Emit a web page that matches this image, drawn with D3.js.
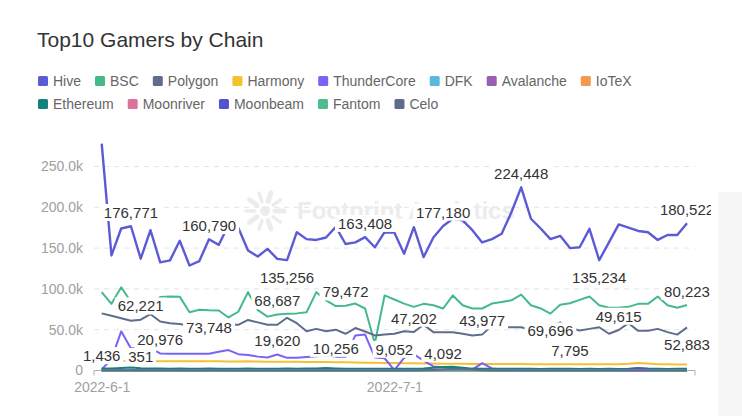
<!DOCTYPE html>
<html>
<head>
<meta charset="utf-8">
<script src="https://cdn.jsdelivr.net/npm/d3@7/dist/d3.min.js"></script>
<style>
  body { margin: 0; background: #fff; }
  svg { display: block; font-family: "Liberation Sans", Arial, sans-serif; }
</style>
</head>
<body>
<div id="chart"></div>
<script>
const W = 742, H = 416;

const seriesNames = ["Hive", "BSC", "Polygon", "Harmony", "ThunderCore", "DFK", "Avalanche", "IoTeX",
                     "Ethereum", "Moonriver", "Moonbeam", "Fantom", "Celo"];
const seriesColors = ["#5b5bd6", "#45b98b", "#5f6c8c", "#f5c12e", "#7b62f2", "#5ab8dc", "#9b5eb5", "#f39a4c",
                      "#14827b", "#dc7499", "#5252d0", "#4dbd8f", "#5f6c8c"];

const hive = [278000,141000,174000,176771,137000,172000,132500,135000,159000,128700,
              134000,160790,154000,178000,175000,147000,139700,149000,136800,135256,
              169500,161000,160000,163000,176000,155000,157000,163408,151000,169500,
              169000,143000,175600,139000,163000,177180,186000,184000,172000,157000,
              161000,167500,194000,224448,186000,174000,161000,165000,150000,151000,
              173600,135234,157000,179000,175000,171000,169500,160000,166000,166000,
              180522];
const bsc = [96000,81700,102000,84000,76000,80000,90000,90700,90500,71400,
             74400,73748,73500,65000,72000,96000,74000,66000,68687,69400,
             70000,71400,96000,86000,79000,79472,82000,76000,33000,92000,
             87000,82000,78000,81700,80000,76000,92000,80000,76000,76000,
             82000,84000,86000,93000,80000,76000,69696,80500,82500,86600,
             90700,80000,77000,77000,78000,81700,81700,90700,80000,77000,
             80223];
const polygon = [70000,67000,64000,61000,62221,69000,60000,58000,57000,55000,
                 56000,55000,57000,56000,56000,62000,59000,56000,56000,64600,
                 58000,48000,51000,48000,50000,45000,52000,47800,43000,44000,
                 45000,48000,47202,56000,47000,47000,47000,45000,43000,43977,
                 55000,53000,53000,53000,50000,52000,55000,59000,52000,49000,
                 51000,53000,45000,49615,58000,48600,48600,51000,47000,44000,
                 52883];
const harmony = [11500,11500,11500,11300,11300,11500,11400,11400,11300,11200,
                 11200,11300,11200,11000,11000,11200,11000,10800,10800,10600,
                 10600,10500,10400,10400,10256,10000,9800,9600,9400,9200,
                 9052,8900,8800,8600,8500,8400,8300,8200,8100,8000,
                 8000,7900,7900,7900,7800,7800,7800,7800,7795,7800,
                 7800,7700,7700,7800,8200,9200,8600,7800,7600,7500,
                 7500];
const thunderCore = [1436,14000,48000,27000,28600,27000,20976,20500,20500,20500,
                     20500,20500,23000,25000,20000,19000,17000,16000,19620,15500,
                     15500,16500,17500,18400,17000,17000,43000,44000,16000,15000,
                     500,15500,20000,12000,5000,4092,3000,600,1000,9000,
                     2500,1200,1500,1000,900,800,700,800,700,600,
                     700,600,600,500,700,1500,700,600,500,500,
                     500];
const dfk = [300,320,310,330,351,320,300,310,290,300,
             310,300,290,280,300,290,280,290,300,280,
             270,280,290,280,270,260,270,280,260,250,
             260,250,240,250,260,240,230,240,250,240,
             230,220,230,240,230,220,210,220,230,220,
             210,200,210,220,210,200,210,200,190,200,
             200];
const avalanche = [150,160,170,160,150,160,170,160,150,140,
                   150,160,150,140,150,140,130,140,150,140,
                   130,140,130,120,130,140,130,120,130,120,
                   110,120,130,120,110,120,130,120,110,120,
                   110,100,110,120,110,100,110,100,110,100,
                   100,110,100,90,100,110,100,90,100,90,
                   100];
const iotex = [80,90,85,80,90,85,80,75,80,85,
               80,75,80,85,80,75,70,75,80,75,
               70,75,70,65,70,75,70,65,70,65,
               60,65,70,65,60,65,60,55,60,65,
               60,55,60,55,50,55,60,55,50,55,
               50,55,50,45,50,55,50,45,50,45,
               50];
const ethereum = [2300,2400,3000,3800,2800,2400,2300,2200,2300,2200,
                  2200,2300,2200,2100,2200,2300,2200,2100,2200,2300,
                  2200,2300,2600,3000,2500,2200,2100,2200,2100,2000,
                  2000,2100,2200,2600,3500,4400,4700,3400,2300,2100,
                  2000,2100,2000,2100,2000,1900,2000,2100,2000,1900,
                  2000,1900,2000,1900,2100,2900,2300,2000,1900,2000,
                  2000];
const moonriver = [250,260,270,260,250,240,250,260,250,240,
                   230,240,250,240,230,220,230,240,230,220,
                   210,220,230,220,210,200,210,220,210,200,
                   190,200,210,200,190,200,210,200,190,180,
                   190,200,190,180,170,180,190,180,170,180,
                   170,160,170,180,170,160,170,160,150,160,
                   150];
const moonbeam = [500,520,540,520,500,480,500,520,500,480,
                  460,480,500,480,460,440,460,480,460,440,
                  420,440,460,440,420,400,420,440,420,400,
                  600,800,700,600,900,1200,1500,1300,800,600,
                  500,600,700,900,600,500,450,500,450,400,
                  450,500,600,800,1500,3200,1600,700,500,450,
                  400];
const fantom = [120,130,140,130,120,130,140,130,120,110,
                120,130,120,110,120,110,100,110,120,110,
                100,110,100,90,100,110,100,90,100,90,
                90,100,110,100,90,100,110,100,90,100,
                90,80,90,100,90,80,90,80,90,80,
                80,90,80,70,80,90,80,70,80,70,
                80];
const celo = [60,70,60,70,60,70,60,70,60,70,
              60,70,60,70,60,70,60,70,60,70,
              60,70,60,70,60,70,60,70,60,70,
              60,80,100,200,500,1200,1600,1500,1100,400,
              100,70,60,70,60,70,60,70,60,70,
              60,70,60,70,60,70,60,70,60,70,
              60];

const xTickLabels = ["2022-6-1", "2022-7-1"];
const yTicks = [0, 50000, 100000, 150000, 200000, 250000];

// which points carry a value label: [series, index, side]
const pointLabels = [
  ["Hive", 3, "top"], ["Hive", 11, "top"], ["Hive", 19, "bottom"], ["Hive", 27, "top"],
  ["Hive", 35, "top"], ["Hive", 43, "top"], ["Hive", 51, "bottom"], ["Hive", 60, "top"],
  ["BSC", 11, "bottom"], ["BSC", 18, "top"], ["BSC", 25, "top"], ["BSC", 46, "bottom"], ["BSC", 60, "top"],
  ["Polygon", 4, "top"], ["Polygon", 32, "top"], ["Polygon", 39, "top"], ["Polygon", 53, "top"], ["Polygon", 60, "bottom"],
  ["ThunderCore", 0, "top"], ["ThunderCore", 6, "top"], ["ThunderCore", 18, "top"], ["ThunderCore", 35, "top"],
  ["Harmony", 24, "top"], ["Harmony", 30, "top"], ["Harmony", 48, "top"],
  ["DFK", 4, "top"]
];

const allValues = [hive, bsc, polygon, harmony, thunderCore, dfk, avalanche, iotex,
                   ethereum, moonriver, moonbeam, fantom, celo];
const series = seriesNames.map((name, k) => ({name, color: seriesColors[k], values: allValues[k]}));
const byName = {};
series.forEach(s => byName[s.name] = s.values);

const fmtDay = d3.timeFormat("%Y-%-m-%-d");
const days = d3.timeDay.range(new Date(2022, 5, 1), new Date(2022, 7, 1)).map(fmtDay);

const svg = d3.select("#chart").append("svg")
    .attr("width", W)
    .attr("height", H);

// pale strip at the right edge of the capture
svg.append("rect").attr("x", 718).attr("y", 192).attr("width", 24).attr("height", H - 192)
    .attr("fill", "#f6f6f6");

svg.append("text")
    .attr("x", 37).attr("y", 47)
    .attr("font-size", 21).attr("fill", "#333")
    .text("Top10 Gamers by Chain");

// legend
const legendRows = [seriesNames.slice(0, 8), seriesNames.slice(8)];
legendRows.forEach((row, r) => {
  let lx = 38;
  const ly = 81 + r * 23;
  row.forEach(name => {
    const g = svg.append("g");
    g.append("rect").attr("x", lx).attr("y", ly - 5).attr("width", 10).attr("height", 10)
        .attr("rx", 1.5).attr("fill", seriesColors[seriesNames.indexOf(name)]);
    const t = g.append("text").attr("x", lx + 15).attr("y", ly).attr("dy", "0.35em")
        .attr("font-size", 14).attr("fill", "#666").text(name);
    lx += 15 + t.node().getComputedTextLength() + 14;
  });
});

const x = d3.scalePoint().domain(days).range([101.7, 687]);
const y = d3.scaleLinear().domain([0, 250000]).range([370.5, 166.5]);

// grid
svg.append("g").selectAll("line")
  .data(yTicks.filter(v => v > 0))
  .join("line")
    .attr("x1", 94).attr("x2", 695)
    .attr("y1", d => y(d)).attr("y2", d => y(d))
    .attr("stroke", "#e4e4e4").attr("stroke-dasharray", "5,5");

// watermark
const wm = svg.append("g").attr("fill", "#ececec").attr("stroke", "#ececec");
wm.append("circle").attr("cx", 265).attr("cy", 211).attr("r", 5).attr("stroke", "none");
d3.range(10).forEach(k => {
  const a = k * Math.PI * 2 / 10;
  wm.append("line")
    .attr("x1", 265 + Math.cos(a) * 10).attr("y1", 211 + Math.sin(a) * 10)
    .attr("x2", 265 + Math.cos(a) * 19).attr("y2", 211 + Math.sin(a) * 19)
    .attr("stroke-width", k % 2 ? 3.5 : 5).attr("stroke-linecap", "round");
});
wm.append("text").attr("x", 297).attr("y", 211).attr("dy", "0.35em").attr("stroke", "none")
    .attr("font-size", 24).attr("font-weight", "bold").text("Footprint Analytics");

// y axis
const yAxis = svg.append("g").attr("transform", "translate(94,0)")
    .call(d3.axisLeft(y).tickValues(yTicks).tickSize(0).tickPadding(11)
      .tickFormat(v => v === 0 ? "0" : d3.format(".1f")(v / 1000) + "k"));
yAxis.select(".domain").remove();
yAxis.selectAll("text").attr("font-size", 14).attr("fill", "#a0a0a0")
    .attr("font-family", "Liberation Sans, Arial, sans-serif");

// x axis
const xAxis = svg.append("g").attr("transform", "translate(0,370.5)")
    .call(d3.axisBottom(x).tickValues(xTickLabels).tickSize(0).tickPadding(12));
xAxis.select(".domain").remove();
xAxis.selectAll("text").attr("font-size", 14).attr("fill", "#a0a0a0")
    .attr("font-family", "Liberation Sans, Arial, sans-serif");
svg.append("path").attr("d", "M94,375.5V370.5H695V375.5")
    .attr("fill", "none").attr("stroke", "#b0b0b0");

// lines
const line = d3.line()
    .x((d, i) => x(days[i]))
    .y(d => y(d));

svg.append("g").selectAll("path")
  .data(series)
  .join("path")
    .attr("d", d => line(d.values))
    .attr("fill", "none")
    .attr("stroke", d => d.color)
    .attr("stroke-width", d => d.name === "Hive" ? 2.4 : 2)
    .attr("stroke-linejoin", "round");

// value labels
svg.append("clipPath").attr("id", "labClip")
  .append("rect").attr("x", 0).attr("y", 0).attr("width", 711).attr("height", H);

const fmt = d3.format(",");
const labLayer = svg.append("g").attr("clip-path", "url(#labClip)");
labLayer.selectAll("g")
  .data(pointLabels)
  .join("g")
  .each(function(d) {
    const g = d3.select(this);
    const v = byName[d[0]][d[1]];
    const cx = x(days[d[1]]);
    const cy = y(v) + (d[2] === "top" ? -13.5 : 17.5);
    const t = g.append("text")
        .attr("x", cx).attr("y", cy).attr("dy", "0.35em")
        .attr("text-anchor", "middle")
        .attr("font-size", 15).attr("fill", "#333")
        .text(fmt(v));
    const b = t.node().getBBox();
    g.insert("rect", "text")
        .attr("x", b.x - 3).attr("y", b.y)
        .attr("width", b.width + 6).attr("height", b.height)
        .attr("fill", "#fff");
  });
</script>
</body>
</html>
